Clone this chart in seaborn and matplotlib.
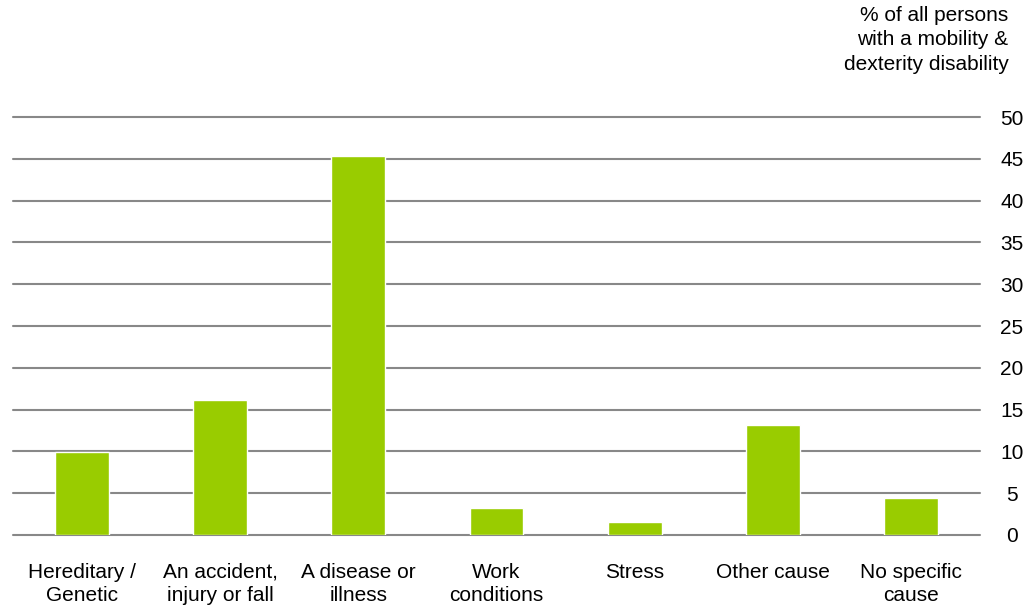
import matplotlib.pyplot as plt
import seaborn as sns
import pandas as pd

causes = ["Hereditary /\nGenetic", "An accident,\ninjury or fall", "A disease or\nillness",
          "Work\nconditions", "Stress", "Other cause", "No specific\ncause"]
shares = [9.9, 16.1, 45.3, 3.2, 1.5, 13.2, 4.4]
yticks = [0, 5, 10, 15, 20, 25, 30, 35, 40, 45, 50]

df = pd.DataFrame({"cause": causes, "share": shares})

sns.set_style("white")
plt.rcParams["font.family"] = ["Liberation Sans", "DejaVu Sans"]
plt.rcParams["text.color"] = "black"
plt.rcParams["xtick.color"] = "black"
plt.rcParams["ytick.color"] = "black"

fig = plt.figure(figsize=(10.27, 6.10), dpi=100)
ax = fig.add_axes([0.0127, 0.123, 0.9415, 0.685])

sns.barplot(data=df, x="cause", y="share", color="#99cc00", width=0.39,
            saturation=1, ax=ax, zorder=3)

ax.set_ylim(0, 50)
ax.set_xlim(-0.5, len(causes) - 0.5)
ax.set_yticks(yticks)
ax.yaxis.tick_right()
ax.tick_params(axis="y", length=0, pad=23, labelsize=15)
for lbl in ax.get_yticklabels():
    lbl.set_horizontalalignment("center")
ax.tick_params(axis="x", length=0, pad=20, labelsize=15)
ax.grid(axis="y", color="#888888", linewidth=1.5, zorder=0)
for gl in ax.get_ygridlines():
    gl.set_clip_on(False)
for s in ax.spines.values():
    s.set_visible(False)
ax.set_xlabel("")
ax.set_ylabel("")
for lbl in ax.get_xticklabels():
    lbl.set_linespacing(1.3)

fig.text(0.982, 0.99, "% of all persons\nwith a mobility &\ndexterity disability",
         ha="right", va="top", fontsize=15, linespacing=1.35)

fig.savefig("out.png", dpi=100)
